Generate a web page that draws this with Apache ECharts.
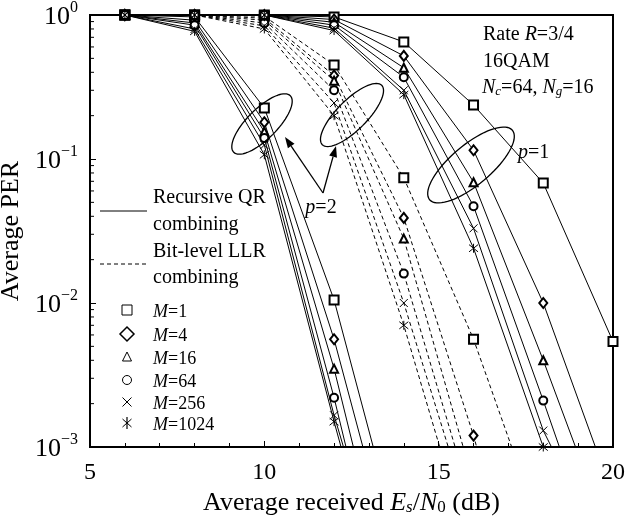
<!DOCTYPE html>
<html><head><meta charset="utf-8">
<script src="https://cdn.jsdelivr.net/npm/echarts@6/dist/echarts.min.js"></script>
<style>html,body{margin:0;padding:0;background:#fff}#c{width:629px;height:517px}</style>
</head><body><div id="c"></div>
<script>
// x values (dB)
const snr = [6, 8, 10, 12, 14, 16, 18, 20];
const mLabels = ['1', '4', '16', '64', '256', '1024'];
// Recursive QR combining, p=1
const qrP1M1    = [1, 1, 1, 0.97, 0.65, 0.237, 0.068, 0.0054];
const qrP1M4    = [1, 1, 1, 0.93, 0.52, 0.115, 0.010, 0.00046];
const qrP1M16   = [1, 1, 1, 0.89, 0.43, 0.069, 0.0040, 0.0002];
const qrP1M64   = [1, 1, 1, 0.85, 0.37, 0.047, 0.0021, 0.000085];
const qrP1M256  = [1, 1, 1, 0.81, 0.30, 0.033, 0.0013, 0.00014];
const qrP1M1024 = [1, 1, 1, 0.78, 0.28, 0.024, 0.0010, 0.00005];
// Recursive QR combining, p=2
const qrP2M1    = [1, 0.97, 0.226, 0.0105, 0.00016];
const qrP2M4    = [1, 0.92, 0.180, 0.0056, 0.000087];
const qrP2M16   = [1, 0.88, 0.155, 0.0035, 0.000038];
const qrP2M64   = [1, 0.85, 0.140, 0.0022, 0.000022];
const qrP2M256  = [1, 0.80, 0.125, 0.00166, 0.000039];
const qrP2M1024 = [1, 0.77, 0.107, 0.0015, 0.000026];
// Bit-level LLR combining, p=2
const llrM1    = [1, 1, 0.98, 0.45, 0.074, 0.0056, 0.00024];
const llrM4    = [1, 1, 0.95, 0.38, 0.039, 0.0012, 0.00002];
const llrM16   = [1, 1, 0.92, 0.35, 0.028, 0.00056, 0.00001];
const llrM64   = [1, 1, 0.88, 0.30, 0.016, 0.00037, 0.00001];
const llrM256  = [1, 1, 0.84, 0.245, 0.010, 0.00027, 0.00001];
const llrM1024 = [1, 1, 0.80, 0.20, 0.007, 0.00016, 0.00001];
// y-axis minor tick values
const yMinorTicks = [0.002,0.003,0.004,0.005,0.006,0.007,0.008,0.009,
  0.02,0.03,0.04,0.05,0.06,0.07,0.08,0.09, 0.2,0.3,0.4,0.5,0.6,0.7,0.8,0.9];

const qrP1 = [qrP1M1, qrP1M4, qrP1M16, qrP1M64, qrP1M256, qrP1M1024];
const qrP2 = [qrP2M1, qrP2M4, qrP2M16, qrP2M64, qrP2M256, qrP2M1024];
const llr  = [llrM1, llrM4, llrM16, llrM64, llrM256, llrM1024];

const XPATH = 'path://M0,0L10,10M10,0L0,10';
const APATH = 'path://M0,1L10,9M10,1L0,9M5,0L5,10';
const symbols = ['emptyRect', 'emptyDiamond', 'emptyTriangle', 'emptyCircle', XPATH, APATH];
const symSizes = [9, [8, 10], 8, 8, 8, 9];

const FONT = 'Liberation Serif';
const series = [];
function addGroup(arr, dashed, tag) {
  arr.forEach((vals, i) => {
    series.push({
      name: tag + ' M=' + mLabels[i],
      type: 'line',
      data: vals.map((v, k) => [snr[k], v]),
      symbol: symbols[i],
      symbolSize: symSizes[i],
      showAllSymbol: true,
      clip: true,
      lineStyle: { color: '#000', width: 1, type: dashed ? [4, 3] : 'solid' },
      itemStyle: { color: '#000', borderColor: '#000', borderWidth: 1 },
      emphasis: { disabled: true },
      animation: false,
      z: 3
    });
  });
}
addGroup(llr, true, 'LLR');
addGroup(qrP2, false, 'QR2');
addGroup(qrP1, false, 'QR1');

series.push({
  type: 'custom',
  data: yMinorTicks.map(v => [5, v]),
  clip: false,
  silent: true,
  animation: false,
  z: 5,
  renderItem: function (params, api) {
    const p = api.coord([api.value(0), api.value(1)]);
    return { type: 'line', shape: { x1: p[0], y1: p[1], x2: p[0] + 4, y2: p[1] },
      style: { stroke: '#000', lineWidth: 1 } };
  }
});

function ellipse(cx, cy, a, b, deg) {
  const t0 = deg * Math.PI / 180, pts = [];
  for (let k = 0; k < 72; k++) {
    const t = k / 72 * 2 * Math.PI;
    const ex = a * Math.cos(t), ey = b * Math.sin(t);
    pts.push([cx + ex * Math.cos(t0) - ey * Math.sin(t0), cy - (ex * Math.sin(t0) + ey * Math.cos(t0))]);
  }
  return { type: 'polygon', shape: { points: pts }, style: { fill: 'none', stroke: '#000', lineWidth: 1.3 }, z: 10 };
}
function arrow(x1, y1, x2, y2) {
  const ang = Math.atan2(y2 - y1, x2 - x1), L = 11, W = 4;
  const bx = x2 - L * Math.cos(ang), by = y2 - L * Math.sin(ang);
  return [
    { type: 'line', shape: { x1, y1, x2: bx, y2: by }, style: { stroke: '#000', lineWidth: 1.3 }, z: 10 },
    { type: 'polygon', shape: { points: [[x2, y2], [bx - W * Math.sin(ang), by + W * Math.cos(ang)], [bx + W * Math.sin(ang), by - W * Math.cos(ang)]] },
      style: { fill: '#000' }, z: 10 }
  ];
}
function txt(x, y, text, size, rich, align) {
  return { type: 'text', x, y, z: 12, style: { text, font: size + 'px "' + FONT + '"', fontFamily: FONT, fontSize: size, fill: '#000',
    textAlign: align || 'left', textVerticalAlign: 'middle', rich: rich || {} } };
}
const richBase = (s) => ({
  n: { fontFamily: FONT, fontSize: s, lineHeight: s + 4, verticalAlign: 'bottom' },
  i: { fontFamily: FONT, fontSize: s, fontStyle: 'italic', lineHeight: s + 4, verticalAlign: 'bottom' },
  sub: { fontFamily: FONT, fontSize: Math.round(s * 0.65), fontStyle: 'italic', lineHeight: s - 1, verticalAlign: 'bottom' },
  sub0: { fontFamily: FONT, fontSize: Math.round(s * 0.65), lineHeight: s - 1, verticalAlign: 'bottom' }
});

const graphic = [];
// legend
graphic.push({ type: 'line', shape: { x1: 100, y1: 211, x2: 147, y2: 211 }, style: { stroke: '#000', lineWidth: 1 }, z: 12 });
graphic.push({ type: 'line', shape: { x1: 100, y1: 264, x2: 147, y2: 264 }, style: { stroke: '#000', lineWidth: 1, lineDash: [4, 3] }, z: 12 });
graphic.push(txt(153, 198, 'Recursive QR', 20));
graphic.push(txt(153, 225, 'combining', 20));
graphic.push(txt(153, 252, 'Bit-level LLR', 20));
graphic.push(txt(153, 278, 'combining', 20));
const legY = [310, 334, 357, 380, 402, 423];
const LX = 127;
graphic.push({ type: 'rect', shape: { x: LX - 5, y: legY[0] - 5, width: 10, height: 10 }, style: { fill: '#fff', stroke: '#000', lineWidth: 1 }, z: 12 });
graphic.push({ type: 'polygon', shape: { points: [[LX, legY[1] - 7], [LX + 7, legY[1]], [LX, legY[1] + 7], [LX - 7, legY[1]]] }, style: { fill: '#fff', stroke: '#000', lineWidth: 1.5 }, z: 12 });
graphic.push({ type: 'polygon', shape: { points: [[LX, legY[2] - 5], [LX + 4.5, legY[2] + 4], [LX - 4.5, legY[2] + 4]] }, style: { fill: '#fff', stroke: '#000', lineWidth: 1 }, z: 12 });
graphic.push({ type: 'circle', shape: { cx: LX, cy: legY[3], r: 4.5 }, style: { fill: '#fff', stroke: '#000', lineWidth: 1 }, z: 12 });
graphic.push({ type: 'line', shape: { x1: LX - 4.5, y1: legY[4] - 4.5, x2: LX + 4.5, y2: legY[4] + 4.5 }, style: { stroke: '#000', lineWidth: 1 }, z: 12 });
graphic.push({ type: 'line', shape: { x1: LX - 4.5, y1: legY[4] + 4.5, x2: LX + 4.5, y2: legY[4] - 4.5 }, style: { stroke: '#000', lineWidth: 1 }, z: 12 });
graphic.push({ type: 'line', shape: { x1: LX - 4.5, y1: legY[5] - 4, x2: LX + 4.5, y2: legY[5] + 4 }, style: { stroke: '#000', lineWidth: 1 }, z: 12 });
graphic.push({ type: 'line', shape: { x1: LX - 4.5, y1: legY[5] + 4, x2: LX + 4.5, y2: legY[5] - 4 }, style: { stroke: '#000', lineWidth: 1 }, z: 12 });
graphic.push({ type: 'line', shape: { x1: LX, y1: legY[5] - 6, x2: LX, y2: legY[5] + 6 }, style: { stroke: '#000', lineWidth: 1.2 }, z: 12 });
mLabels.forEach((m, i) => {
  graphic.push(txt(153, legY[i], '{i|M}{n|=' + m + '}', 18, richBase(18)));
});
// top-right annotation
graphic.push(txt(483, 33, '{n|Rate }{i|R}{n|=3/4}', 20, richBase(20)));
graphic.push(txt(483, 60, '{n|16QAM}', 20, richBase(20)));
graphic.push(txt(482, 86, '{i|N}{sub|c}{n|=64, }{i|N}{sub|g}{n|=16}', 20, richBase(20)));
// ellipses, arrows, labels
graphic.push(ellipse(262, 124, 40, 15, 45));
graphic.push(ellipse(352, 115, 42, 15, 45));
graphic.push(ellipse(471, 165, 54, 20, 40));
graphic.push(...arrow(323, 193, 285, 137));
graphic.push(...arrow(323, 193, 336, 146));
graphic.push(txt(321, 206, '{i|p}{n|=2}', 20, richBase(20), 'center'));
graphic.push(txt(518, 151, '{i|p}{n|=1}', 20, richBase(20)));

const option = {
  backgroundColor: '#fff',
  animation: false,
  grid: { left: 90, right: 16, top: 15, bottom: 70, containLabel: false, outerBoundsMode: 'none',
    show: true, borderColor: '#000', borderWidth: 2, backgroundColor: 'transparent' },
  xAxis: {
    type: 'value', min: 5, max: 20, interval: 5,
    axisLine: { show: true, lineStyle: { color: '#000', width: 2 } },
    axisTick: { show: true, inside: true, length: 6, lineStyle: { color: '#000', width: 1 } },
    minorTick: { show: true, splitNumber: 5, length: 4, lineStyle: { color: '#000', width: 1 } },
    splitLine: { show: false },
    axisLabel: { color: '#000', fontFamily: FONT, fontSize: 24, margin: 14 },
    name: '{n|Average received }{i|E}{sub|s}{n|/}{i|N}{sub0|0}{n| (dB)}',
    nameLocation: 'middle', nameGap: 37,
    nameTextStyle: { color: '#000', fontFamily: FONT, fontSize: 26, rich: richBase(26) }
  },
  yAxis: {
    type: 'log', logBase: 10, min: 0.001, max: 1,
    axisLine: { show: true, lineStyle: { color: '#000', width: 2 } },
    axisTick: { show: true, inside: true, length: 6, lineStyle: { color: '#000', width: 1 } },
    splitLine: { show: false },
    axisLabel: {
      color: '#000', margin: 12,
      formatter: function (v) {
        const e = Math.round(Math.log10(v));
        return '{b|10}{s|' + (e < 0 ? '\u2212' + (-e) : e) + '}';
      },
      rich: {
        b: { fontFamily: FONT, fontSize: 26, lineHeight: 30, verticalAlign: 'bottom' },
        s: { fontFamily: FONT, fontSize: 16, lineHeight: 30, verticalAlign: 'top' }
      }
    },
    name: 'Average PER', nameLocation: 'middle', nameGap: 54, nameRotate: 90,
    nameTextStyle: { color: '#000', fontFamily: FONT, fontSize: 26 }
  },
  series: series,
  graphic: graphic
};
const chart = echarts.init(document.getElementById('c'), null, { renderer: 'canvas' });
chart.setOption(option);
</script>
</body></html>
